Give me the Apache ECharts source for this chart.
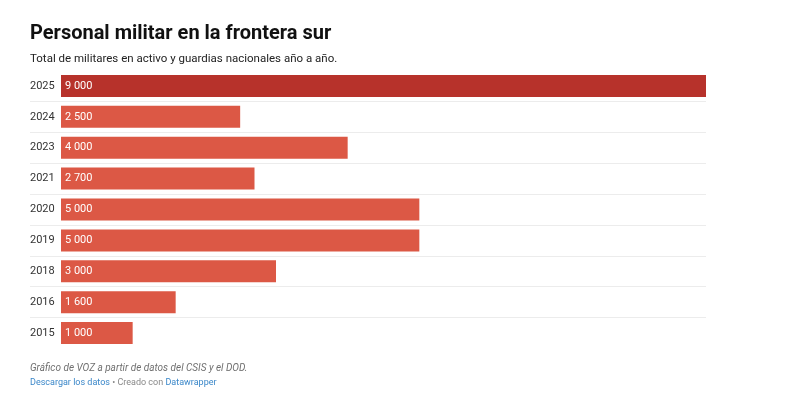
<!DOCTYPE html>
<html><head><meta charset="utf-8">
<script src="https://cdn.jsdelivr.net/npm/echarts@6/dist/echarts.min.js"></script>
<style>html,body{margin:0;padding:0;background:#fff}#c{width:790px;height:406px}</style>
</head><body><div id="c"></div>
<script>
const years = ['2025','2024','2023','2021','2020','2019','2018','2016','2015'];
const troops = [9000, 2500, 4000, 2700, 5000, 5000, 3000, 1600, 1000];
const highlightYear = '2025';

const FONT = 'Roboto, "Noto Sans", sans-serif';
const fmt = v => String(v).replace(/\B(?=(\d{3})+(?!\d))/g, ' ');

const chart = echarts.init(document.getElementById('c'), null, {renderer: 'canvas'});
chart.setOption({
  backgroundColor: '#fff',
  animation: false,
  textStyle: {fontFamily: FONT},
  title: [
    {text: 'Personal militar en la frontera sur', left: 30, top: 24, padding: 0,
     textStyle: {fontFamily: FONT, fontSize: 20, fontWeight: 'bold', color: '#111'}},
    {text: 'Total de militares en activo y guardias nacionales año a año.', left: 30, top: 53.5, padding: 0,
     textStyle: {fontFamily: FONT, fontSize: 11.5, fontWeight: 'normal', color: '#222'}},
    {text: 'Gráfico de VOZ a partir de datos del CSIS y el DOD.', left: 30, top: 363, padding: 0,
     textStyle: {fontFamily: FONT, fontSize: 10, fontStyle: 'italic', fontWeight: 'normal', color: '#707070'}},
    {text: '{a|Descargar los datos}{b| • Creado con }{a|Datawrapper}', left: 30, top: 378, padding: 0,
     textStyle: {fontFamily: FONT, fontSize: 9, fontWeight: 'normal',
       rich: {a: {fontFamily: FONT, fontSize: 9, color: '#3a87c9'},
              b: {fontFamily: FONT, fontSize: 9, color: '#888'}}}}
  ],
  grid: [
    {left: 61, right: 84, top: 70.5, bottom: 57.5},
    {left: 30, right: 84, top: 70.5, bottom: 57.5}
  ],
  xAxis: [
    {gridIndex: 0, type: 'value', min: 0, max: 9000, show: false},
    {gridIndex: 1, type: 'value', min: 0, max: 1, show: false}
  ],
  yAxis: [
    {gridIndex: 0, type: 'category', data: years, inverse: true,
     axisLine: {show: false}, axisTick: {show: false}, splitLine: {show: false},
     axisLabel: {margin: 31, align: 'left', color: '#333', fontSize: 11, fontFamily: FONT}},
    {gridIndex: 1, type: 'value', min: 0, max: years.length, interval: 1, inverse: true,
     axisLine: {show: false}, axisTick: {show: false}, axisLabel: {show: false},
     splitLine: {show: true, showMinLine: false, showMaxLine: false,
       lineStyle: {color: '#ececec', width: 1}}}
  ],
  series: [{
    type: 'bar', xAxisIndex: 0, yAxisIndex: 0, barWidth: 22,
    data: troops.map((v, i) => ({value: v,
      itemStyle: {color: years[i] === highlightYear ? '#b7322b' : '#dc5845'}})),
    label: {show: true, position: 'insideLeft', distance: 4, color: '#fff', fontSize: 11,
      fontFamily: FONT, formatter: p => fmt(p.value)}
  }]
});
</script></body></html>
